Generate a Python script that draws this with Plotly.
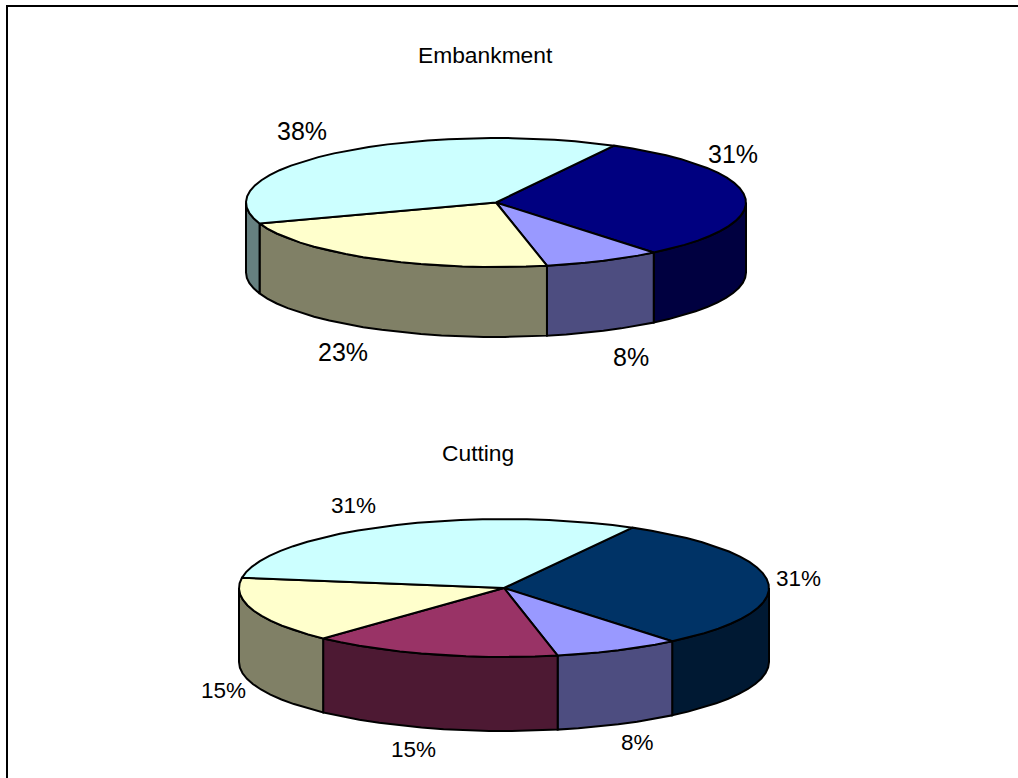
import math
import plotly.graph_objects as go

# ---- data ----
embankment_values = [31.3, 7.6, 23.0, 38.1]
embankment_top_colors = ["#000080", "#9999FF", "#FFFFCC", "#CCFFFF"]
embankment_side_colors = ["#000040", "#4D4D80", "#808066", "#668080"]

cutting_values = [31.0, 7.7, 15.2, 15.4, 30.7]
cutting_top_colors = ["#003366", "#9999FF", "#993366", "#FFFFCC", "#CCFFFF"]
cutting_side_colors = ["#001933", "#4D4D80", "#4D1933", "#808066", "#668080"]

titles = ["Embankment", "Cutting"]

# ---- layout geometry (pixel space of the page) ----
W, H = 1018, 778
PIES = [
    dict(values=embankment_values, top=embankment_top_colors, side=embankment_side_colors,
         cx=496, cy=202.5, rx=250, ry=64.5, depth=70, start=28.2, size=25,
         label_pos=[(733, 154), (631, 356.5), (343, 352), (302, 131)],
         title=titles[0], title_pos=(485, 54.5), title_size=22.8),
    dict(values=cutting_values, top=cutting_top_colors, side=cutting_side_colors,
         cx=504, cy=588, rx=265, ry=69, depth=74, start=29.0, size=22.5,
         label_pos=[(798, 578.5), (637, 742.5), (413, 749), (223, 690.5), (353, 505)],
         title=titles[1], title_pos=(478, 453), title_size=22.8),
]
STEP = 5.0


def pt(p, deg, drop=0.0):
    a = math.radians(deg)
    return p["cx"] + p["rx"] * math.sin(a), p["cy"] - p["ry"] * math.cos(a) + drop


def arc(p, a0, a1, drop=0.0):
    n = max(1, int(math.ceil(abs(a1 - a0) / STEP)))
    return [pt(p, a0 + (a1 - a0) * i / n, drop) for i in range(n + 1)]


def poly(points, color):
    xs = [q[0] for q in points] + [points[0][0]]
    ys = [q[1] for q in points] + [points[0][1]]
    return go.Scatter(x=xs, y=ys, mode="lines", fill="toself", fillcolor=color,
                      line=dict(color="black", width=2), hoverinfo="skip",
                      showlegend=False)


fig = go.Figure()
annotations = []
for p in PIES:
    total = sum(p["values"])
    spans = []
    a = p["start"]
    for v in p["values"]:
        b = a + 360.0 * v / total
        spans.append((a, b))
        a = b
    # side walls: only the visible front half (90..270 degrees clockwise from 12 o'clock)
    for (a0, b0), col in zip(spans, p["side"]):
        for shift in (0, 360):
            lo, hi = max(a0 - shift, 90), min(b0 - shift, 270)
            if lo < hi:
                top_edge = arc(p, lo, hi)
                bottom_edge = arc(p, hi, lo, p["depth"])
                fig.add_trace(poly(top_edge + bottom_edge, col))
    # top face
    for (a0, b0), col in zip(spans, p["top"]):
        fig.add_trace(poly([(p["cx"], p["cy"])] + arc(p, a0, b0), col))
    for v, (x, y) in zip(p["values"], p["label_pos"]):
        annotations.append(dict(x=x, y=y, text=f"{round(100 * v / total)}%", showarrow=False,
                                xanchor="center", yanchor="middle",
                                font=dict(size=p["size"], color="black",
                                          family="Liberation Sans, Arial, sans-serif")))
    annotations.append(dict(x=p["title_pos"][0], y=p["title_pos"][1], text=p["title"],
                            showarrow=False, xanchor="center", yanchor="middle",
                            font=dict(size=p["title_size"], color="black",
                                      family="Liberation Sans, Arial, sans-serif")))

# chart frame (top and left edges are the only ones in the picture)
fig.add_trace(go.Scatter(x=[7, 7, W], y=[H, 6, 6], mode="lines",
                         line=dict(color="black", width=2), hoverinfo="skip",
                         showlegend=False))

fig.update_layout(
    width=W, height=H, margin=dict(l=0, r=0, t=0, b=0),
    paper_bgcolor="white", plot_bgcolor="white",
    xaxis=dict(range=[0, W], visible=False, fixedrange=True),
    yaxis=dict(range=[H, 0], visible=False, fixedrange=True),
    annotations=annotations, showlegend=False,
)
fig.write_html("out.html", config=dict(displayModeBar=False),
               post_script="document.body.style.margin='0';document.body.style.overflow='hidden';")
